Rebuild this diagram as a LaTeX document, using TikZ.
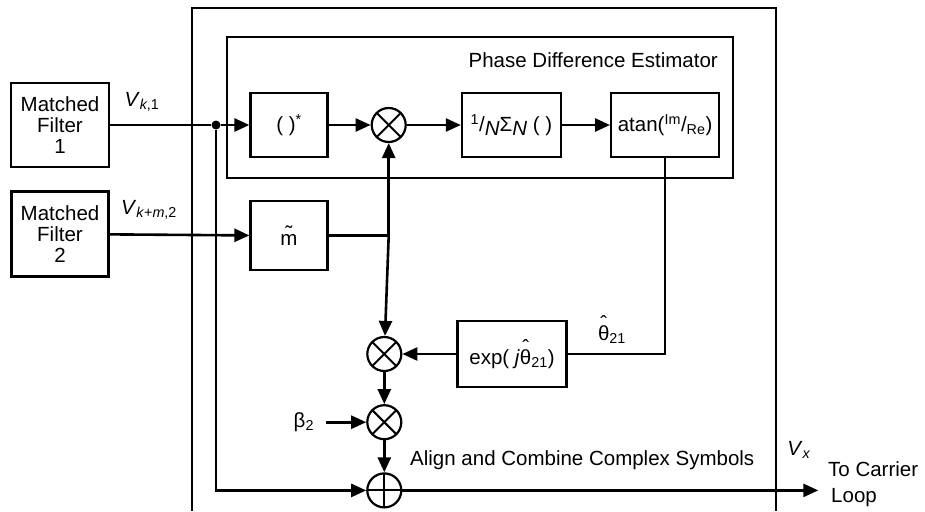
\documentclass[tikz,border=0pt]{standalone}
\usepackage{fontspec}
\setmainfont{Liberation Sans}
\usetikzlibrary{shapes,arrows.meta,positioning,calc}

% accent set high over a letter
\newcommand{\accover}[3]{\leavevmode\vbox{\offinterlineskip\halign{\hfil##\hfil\cr#1\cr\noalign{\kern#2}#3\cr}}}
\newcommand{\thetahat}{\accover{ˆ}{-5pt}{θ}}
\newcommand{\mtil}{\accover{˜}{-6pt}{m}}

\begin{document}
\begin{tikzpicture}[x=1pt, y=-1pt, node distance=40pt, every node/.style={font=\fontsize{20.5}{21}\selectfont}]
    \tikzstyle{block} = [rectangle, draw, line width=2.2pt, minimum width=77pt, minimum height=64pt, inner sep=2pt, align=center]
    \tikzstyle{mixer} = [circle, draw, line width=2.2pt, minimum size=34pt, inner sep=0pt, path picture={\draw[line width=2pt] (path picture bounding box.north west) -- (path picture bounding box.south east) (path picture bounding box.north east) -- (path picture bounding box.south west);}]
    \tikzstyle{adder} = [circle, draw, line width=2.2pt, minimum size=34pt, inner sep=0pt, path picture={\draw[line width=2pt] (path picture bounding box.north) -- (path picture bounding box.south) (path picture bounding box.west) -- (path picture bounding box.east);}]
    \tikzstyle{dot} = [circle, fill, inner sep=0pt, minimum size=9pt]
    \tikzstyle{line} = [draw, line width=2.6pt]
    \tikzstyle{arrow} = [line, -{Triangle[length=15pt, width=13pt]}]
    \tikzstyle{frame} = [draw, line width=1.6pt]

    \useasboundingbox (0,0) rectangle (925,511);

    % frames
    \draw [frame] (192,511) -- (192,8) -- (776,8) -- (776,511);
    \draw [frame] (227,37) rectangle (733,178);
    \node [anchor=east, inner sep=0pt] (pde) at (718,60) {Phase Difference Estimator};
    \node [anchor=west, inner sep=0pt] (acs) at (410,460) {Align and Combine Complex Symbols};

    % filters
    \node [block, minimum width=98pt, minimum height=84pt] (mf1) at (60,125) {Matched\\Filter\\1};
    \node [block, minimum width=97pt, minimum height=85pt] (mf2) at (60,234) {Matched\\Filter\\2};
    \node (vk1) at (142,102) {\textit{V}\textsubscript{\textit{k},1}};
    \node (vk2) at (149,210) {\textit{V}\textsubscript{\textit{k}+\textit{m},2}};

    % estimator
    \node [block] (conj) at (289,125) {( )\textsuperscript{*}};
    \node [mixer, right=42pt of conj] (mul1) {};
    \node [block, minimum width=99pt, right=54pt of mul1] (avg) {\textsuperscript{1}/\raisebox{-0.35ex}{\textit{N}}Σ\raisebox{-0.35ex}{\textit{N}} ( )};
    \node [block, minimum width=108pt, right=48pt of avg] (atan) {atan(\textsuperscript{Im}/\textsubscript{Re})};
    \node [block, minimum height=69pt, below=42pt of conj] (mtilde) {\mtil};
    \node [dot] (tap) at (216,125) {};
    \coordinate (mjoin) at (mtilde.east -| mul1);

    % combiner
    \node [block, minimum width=109pt, minimum height=66pt] (expo) at (512,354) {exp( \textit{j}\thetahat\textsubscript{21})};
    \node [mixer, left=54pt of expo] (mul2) {};
    \node [mixer, below=32pt of mul2] (mul3) {};
    \node [adder, below=32pt of mul3] (comb) {};
    \node [left=40pt of mul3, inner xsep=12pt, inner ysep=2pt] (gain) {β\textsubscript{2}};
    \node (thlbl) at (612,330) {\thetahat\textsubscript{21}};
    \coordinate (carrier) at ($(comb)+(434,0)$);
    \node (vx) at (799,450) {\textit{V}\textsubscript{\textit{x}}};
    \node [anchor=west, align=left, inner sep=0pt, font=\fontsize{20.5}{26}\selectfont] (dest) at (828,484) {To Carrier\\\hspace{3pt}Loop};

    \path [line] (mf1) -- (tap);
    \path [arrow] (tap) -- (conj);
    \path [arrow] (tap) |- (comb);
    \path [arrow] (mf2) -- (mtilde);
    \path [arrow] (conj) -- (mul1);
    \path [arrow] (mul1) -- (avg);
    \path [arrow] (avg) -- (atan);
    \path [line] (atan) |- (expo);
    \path [arrow] (expo) -- (mul2);
    \path [line] (mtilde) -- (mjoin);
    \path [arrow] (mjoin) -- (mul1);
    \path [arrow] (mjoin) -- (mul2);
    \path [arrow] (mul2) -- (mul3);
    \path [arrow] (mul3) -- (comb);
    \path [arrow] (gain) -- (mul3);
    \path [arrow] (comb) -- (carrier);
\end{tikzpicture}
\end{document}
